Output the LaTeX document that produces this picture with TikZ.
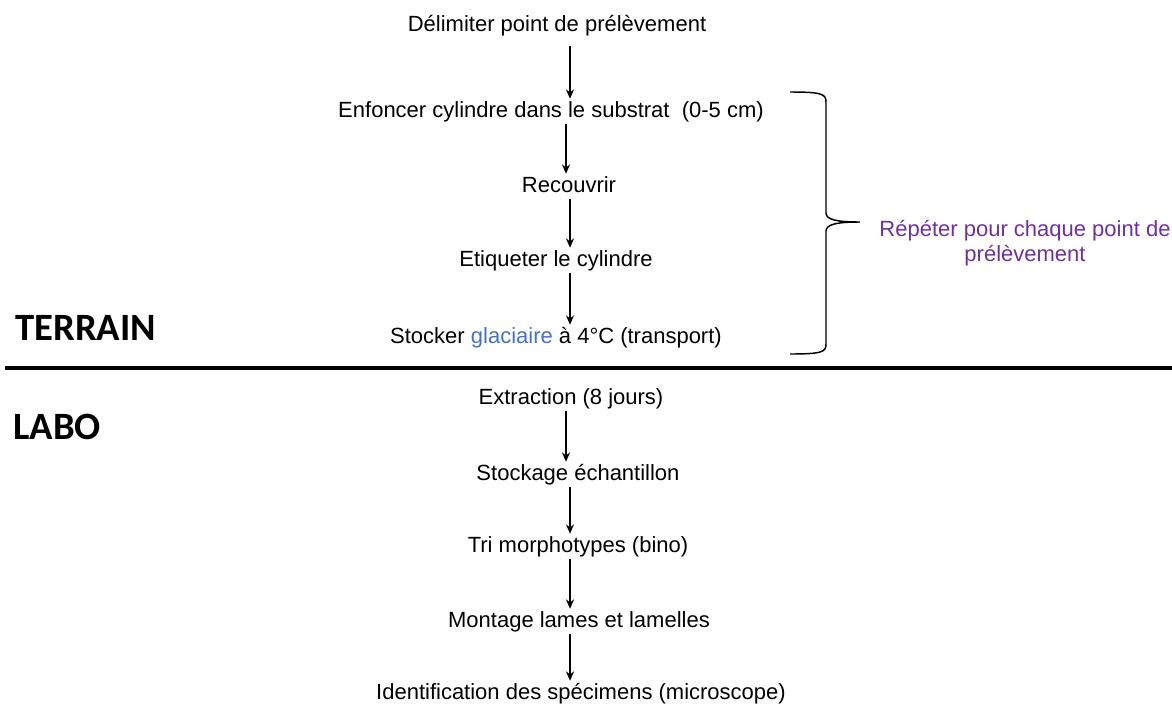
\documentclass[tikz,border=0pt]{standalone}
\usepackage{fontspec}
\setmainfont{Liberation Sans}
\newfontfamily\titlefont{Carlito}
\usetikzlibrary{arrows.meta}
\definecolor{bleu}{HTML}{4472C4}
\definecolor{violet}{HTML}{7030A0}
\tikzset{
  etape/.style={anchor=base, inner sep=0pt, text height=12.75pt, text depth=3.75pt, font=\fontsize{16.5}{19}\selectfont},
  fleche/.style={-{Stealth[length=7pt,width=6pt]}, line width=1.3pt, shorten >=0.75pt, shorten <=1.5pt},
  titre/.style={anchor=base west, inner sep=0pt, font=\titlefont\bfseries\fontsize{29}{32}\selectfont}
}
\begin{document}
\begin{tikzpicture}[x=0.75pt,y=-0.75pt]
    \useasboundingbox (0,0) rectangle (1172,704);
    \coordinate (col) at (570,0);
    \coordinate (col2) at (566,0);
    % terrain
    \node[etape] (delim) at (557,31) {Délimiter point de prélèvement};
    \node[etape] (enfonc) at (551,117) {Enfoncer cylindre dans le substrat\ \ (0-5 cm)};
    \node[etape] (recouv) at (569,192) {Recouvrir};
    \node[etape] (etiq) at (556,266) {Etiqueter le cylindre};
    \node[etape] (stock) at (556,343) {Stocker \textcolor{bleu}{glaciaire} à 4°C (transport)};
    \draw[fleche, shorten <=7.5pt] (delim.south -| col) -- (enfonc.north -| col);
    \draw[fleche] (enfonc.south -| col2) -- (recouv.north -| col2);
    \draw[fleche] (recouv.south -| col) -- (etiq.north -| col);
    \draw[fleche] (etiq.south -| col) -- (stock.north -| col);
    % separation
    \node[titre] (terrain) at (15,340) {TERRAIN};
    \node[titre] (labo) at (13,439) {LABO};
    \coordinate (sepG) at (5,368);
    \coordinate (sepD) at (1172,368);
    \draw[line width=2.3pt] (sepG) -- (sepD);
    % labo
    \node[etape] (extr) at (571,404) {Extraction (8 jours)};
    \node[etape] (stockage) at (578,480) {Stockage échantillon};
    \node[etape] (tri) at (578,552) {Tri morphotypes (bino)};
    \node[etape] (montage) at (579,627) {Montage lames et lamelles};
    \node[etape] (ident) at (581,699) {Identification des spécimens (microscope)};
    \draw[fleche] (extr.south -| col2) -- (stockage.north -| col2);
    \draw[fleche] (stockage.south -| col) -- (tri.north -| col);
    \draw[fleche] (tri.south -| col) -- (montage.north -| col);
    \draw[fleche] (montage.south -| col) -- (ident.north -| col);
    % accolade
    \coordinate (accH) at (790,92);
    \coordinate (accP) at (860,222);
    \coordinate (accB) at (790,354);
    \draw[line width=1.1pt] (accH) .. controls (822,92) and (826,94) .. (826,102) -- (826,213)
      .. controls (826,220) and (838,222) .. (accP) .. controls (838,222) and (826,224) .. (826,231)
      -- (826,344) .. controls (826,352) and (822,354) .. (accB);
    \node[text=violet, align=center, inner sep=0pt, font=\fontsize{16.5}{19}\selectfont] (repeter) at (1025,243) {Répéter pour chaque point de\\prélèvement};
\end{tikzpicture}
\end{document}
